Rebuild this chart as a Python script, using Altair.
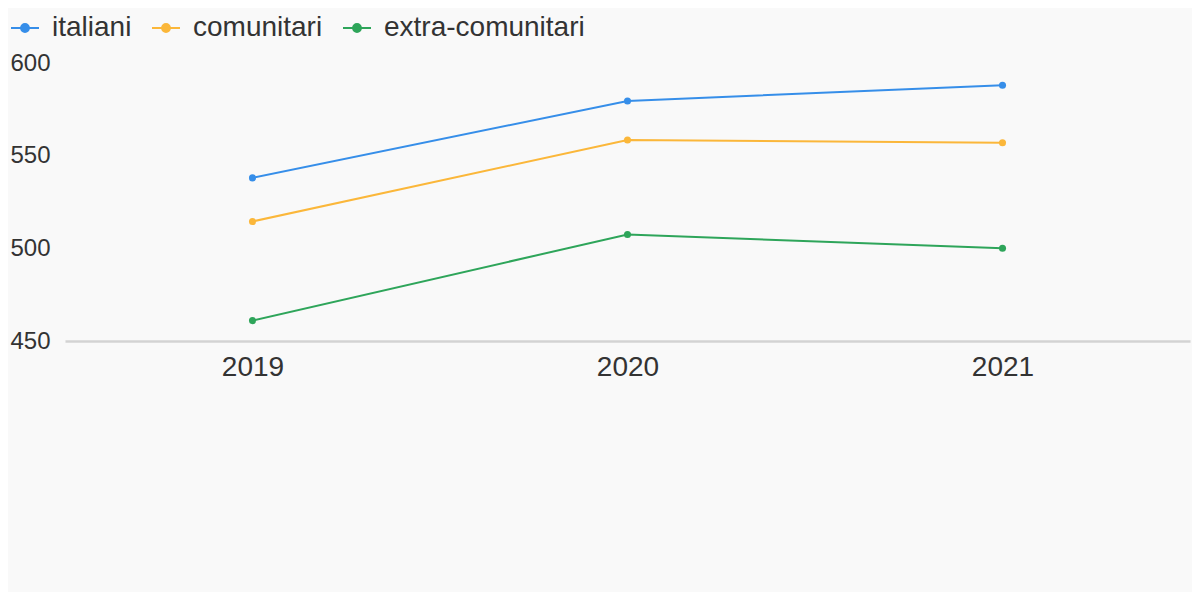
import altair as alt
import pandas as pd

years = ["2019", "2020", "2021"]
groups = ["italiani", "comunitari", "extra-comunitari"]
italiani = [538, 579.5, 588]
comunitari = [514.5, 558.5, 557]
extra = [461, 507.5, 500]
colors = ["#368ee9", "#fbb73a", "#2ea55a"]

rows = []
for g, vals in zip(groups, [italiani, comunitari, extra]):
    for y, v in zip(years, vals):
        rows.append({"anno": y, "gruppo": g, "valore": v})
df = pd.DataFrame(rows)

sym = "M-1,0H1M-0.28,0A0.28,0.28,0,1,1,0.28,0A0.28,0.28,0,1,1,-0.28,0Z"

leg = alt.Legend(orient="none", legendX=-55, legendY=-50, direction="horizontal",
                 symbolType=sym, symbolSize=784, symbolStrokeWidth=2,
                 labelFontSize=28, labelOffset=12, columnPadding=16, labelLimit=500)
cscale = alt.Scale(domain=groups, range=colors)

x = alt.X("anno:O", title=None,
          axis=alt.Axis(labelAngle=0, ticks=False, tickSize=0, labelFontSize=28,
                        labelPadding=12, domainColor="#d3d3d3", domainWidth=2.5,
                        grid=False))
y = alt.Y("valore:Q", title=None,
          scale=alt.Scale(domain=[450, 600], zero=False, nice=False),
          axis=alt.Axis(values=[450, 500, 550, 600], grid=False, domain=False,
                        ticks=False, tickSize=0, labelAlign="left", labelPadding=55,
                        labelBaseline="middle", labelFontSize=24))

base = alt.Chart(df)
lines = base.mark_line(strokeWidth=2).encode(
    x=x, y=y,
    stroke=alt.Stroke("gruppo:N", title=None, scale=cscale, legend=leg),
    detail="gruppo:N",
)
points = base.mark_point(size=50, filled=True, opacity=1).encode(
    x=x, y=y,
    fill=alt.Fill("gruppo:N", title=None, scale=cscale, legend=leg),
)

chart = alt.layer(lines, points).properties(
    width=1125, height=278,
    autosize=alt.AutoSizeParams(type="none"),
    padding={"left": 57, "top": 55, "right": 2, "bottom": 251},
    background="#f9f9f9",
).configure(
    font="Liberation Sans"
).configure_view(stroke="transparent", strokeWidth=0
).configure_axis(labelColor="#333333", labelFont="Liberation Sans").configure_legend(
    labelColor="#333333", labelFont="Liberation Sans"
)

chart.save("out.html", embed_options={"renderer": "svg", "actions": False})
